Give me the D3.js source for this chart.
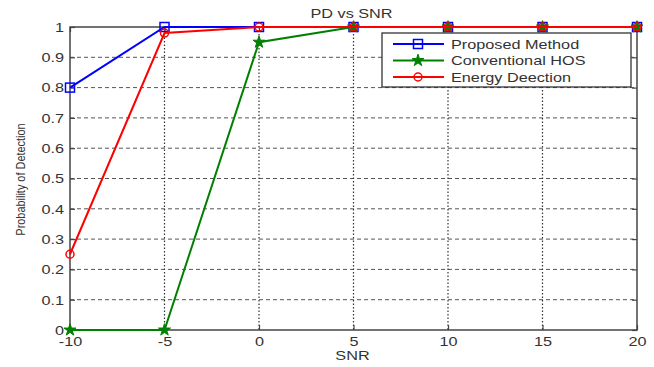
<!DOCTYPE html>
<html>
<head>
<meta charset="utf-8">
<script src="https://cdn.jsdelivr.net/npm/d3@7"></script>
<style>
  html, body { margin: 0; padding: 0; background: #fff; }
  svg { display: block; font-family: "Liberation Sans", Arial, sans-serif; }
</style>
</head>
<body>
<svg id="chart" width="654" height="367"></svg>
<script>
// SNR values (dB) and detection probabilities for each detector
const snr = [-10, -5, 0, 5, 10, 15, 20];
const proposed = [0.8, 1, 1, 1, 1, 1, 1];
const conventionalHOS = [0, 0, 0.95, 1, 1, 1, 1];
const energyDetection = [0.25, 0.98, 1, 1, 1, 1, 1];
const seriesNames = ["Proposed Method", "Conventional HOS", "Energy Deection"];
const xTicks = [-10, -5, 0, 5, 10, 15, 20];
const yTicks = [0, 0.1, 0.2, 0.3, 0.4, 0.5, 0.6, 0.7, 0.8, 0.9, 1];

const svg = d3.select("#chart");
const m = { left: 70, right: 637, top: 27, bottom: 330 };
const textColor = "#333";
const wide = 1.3; // horizontal stretch of the lettering

const x = d3.scaleLinear().domain([-10, 20]).range([m.left, m.right]);
const y = d3.scaleLinear().domain([0, 1]).range([m.bottom, m.top]);

// grid: dashed horizontals, dotted verticals
const grid = svg.append("g");
grid.selectAll("line.h").data(yTicks.slice(1, -1)).join("line")
  .attr("x1", m.left).attr("x2", m.right)
  .attr("y1", d => y(d)).attr("y2", d => y(d))
  .attr("stroke", "#555").attr("stroke-width", 1)
  .attr("stroke-dasharray", "4,3");
grid.selectAll("line.v").data(xTicks.slice(1, -1)).join("line")
  .attr("y1", m.top).attr("y2", m.bottom)
  .attr("x1", d => x(d)).attr("x2", d => x(d))
  .attr("stroke", "#333").attr("stroke-width", 1.2)
  .attr("stroke-dasharray", "1.5,2");

// frame
svg.append("rect")
  .attr("x", m.left).attr("y", m.top)
  .attr("width", m.right - m.left).attr("height", m.bottom - m.top)
  .attr("fill", "none").attr("stroke", "#444").attr("stroke-width", 1.5);

// axes with inward ticks
const xAxis = svg.append("g").attr("transform", `translate(0,${m.bottom})`)
  .call(d3.axisBottom(x).tickValues(xTicks).tickFormat(d => String(d))
    .tickSizeInner(-5).tickSizeOuter(0));
const yAxis = svg.append("g").attr("transform", `translate(${m.left},0)`)
  .call(d3.axisLeft(y).tickValues(yTicks).tickFormat(d => String(d))
    .tickSizeInner(-5).tickSizeOuter(0));
svg.append("g").attr("transform", `translate(0,${m.top})`)
  .call(d3.axisTop(x).tickValues(xTicks).tickSizeInner(-5).tickSizeOuter(0).tickFormat(""));
svg.append("g").attr("transform", `translate(${m.right},0)`)
  .call(d3.axisRight(y).tickValues(yTicks).tickSizeInner(-5).tickSizeOuter(0).tickFormat(""));
svg.selectAll(".domain").remove();
svg.selectAll(".tick line").attr("stroke", "#444").attr("stroke-width", 1.2);
svg.selectAll(".tick text").attr("fill", textColor).attr("font-size", 12.5)
  .attr("font-family", "'Liberation Sans', Arial, sans-serif");
xAxis.selectAll(".tick text").attr("x", 0).attr("y", 16).attr("dy", 0)
  .attr("transform", `scale(${wide},1)`);
yAxis.selectAll(".tick text").attr("x", -6 / wide).attr("dy", "0.35em")
  .attr("transform", `scale(${wide},1)`);

// series
const series = [
  { name: seriesNames[0], values: proposed, color: "#0000ff", marker: "square" },
  { name: seriesNames[1], values: conventionalHOS, color: "#008000", marker: "star" },
  { name: seriesNames[2], values: energyDetection, color: "#ff0000", marker: "circle" }
];

const line = d3.line().x((d, i) => x(snr[i])).y(d => y(d));

function drawMarker(g, type, color) {
  if (type === "square") {
    g.append("rect").attr("x", -4.5).attr("y", -4.5).attr("width", 9).attr("height", 9)
      .attr("fill", "none").attr("stroke", color).attr("stroke-width", 1.5);
  } else if (type === "star") {
    g.append("path").attr("d", d3.symbol().type(d3.symbolStar).size(45)())
      .attr("fill", color).attr("stroke", color).attr("stroke-width", 1);
  } else {
    g.append("circle").attr("r", 4).attr("fill", "none")
      .attr("stroke", color).attr("stroke-width", 1.5);
  }
}

series.forEach(s => {
  svg.append("path").datum(s.values).attr("d", line)
    .attr("fill", "none").attr("stroke", s.color).attr("stroke-width", 2);
  s.values.forEach((v, i) => {
    const g = svg.append("g").attr("transform", `translate(${x(snr[i])},${y(v)})`);
    drawMarker(g, s.marker, s.color);
  });
});

// title and axis labels
function wideText(px, py, str, size) {
  return svg.append("text")
    .attr("transform", `translate(${px},${py}) scale(${wide},1)`)
    .attr("text-anchor", "middle").attr("font-size", size).attr("fill", textColor).text(str);
}
wideText((m.left + m.right) / 2 - 2, 18, "PD vs SNR", 12.5);
wideText((m.left + m.right) / 2 - 1, 360, "SNR", 12.5);
svg.append("text")
  .attr("transform", `translate(25,${(m.top + m.bottom) / 2 + 1}) rotate(-90) scale(0.84,1)`)
  .attr("text-anchor", "middle").attr("font-size", 13).attr("fill", textColor)
  .text("Probability of Detection");

// legend
const lg = svg.append("g").attr("transform", "translate(382,33)");
lg.append("rect").attr("x", 0).attr("y", 0).attr("width", 249).attr("height", 54)
  .attr("fill", "#fff").attr("stroke", "#222").attr("stroke-width", 1.2);
series.forEach((s, i) => {
  const yy = 11 + i * 16.5;
  lg.append("line").attr("x1", 11).attr("x2", 62).attr("y1", yy).attr("y2", yy)
    .attr("stroke", s.color).attr("stroke-width", 2);
  drawMarker(lg.append("g").attr("transform", `translate(36,${yy})`), s.marker, s.color);
  lg.append("text").attr("transform", `translate(69,${yy + 4.5}) scale(${wide},1)`)
    .attr("font-size", 12.5).attr("fill", textColor).text(s.name);
});
</script>
</body>
</html>
